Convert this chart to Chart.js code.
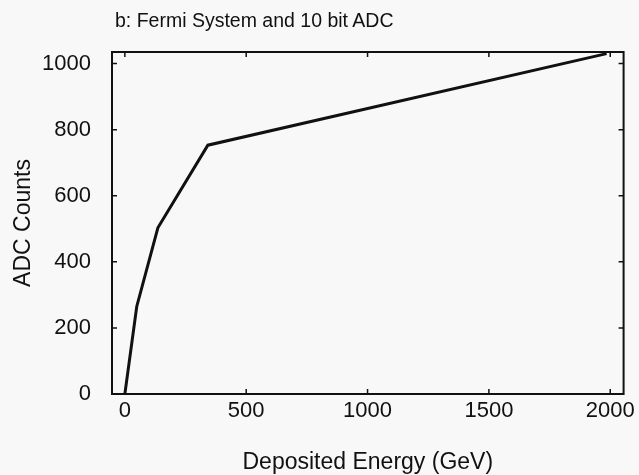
<!DOCTYPE html>
<html>
<head>
<meta charset="utf-8">
<script src="https://cdn.jsdelivr.net/npm/chart.js@4/dist/chart.umd.min.js"></script>
<style>
html,body{margin:0;padding:0;background:#f7f8f7;}
#wrap{position:relative;width:639px;height:475px;}
#title{position:absolute;left:115px;top:9px;font:19.5px "Liberation Sans",Arial,sans-serif;color:#111;}
</style>
</head>
<body>
<div id="wrap">
<div id="title">b: Fermi System and 10 bit ADC</div>
<canvas id="adcChart" width="639" height="475"></canvas>
</div>
<script>

// response curve
const energy = [0, 49, 136, 342, 1985];
const counts = [0, 265, 503, 753, 1030];

const xTicks = [0, 500, 1000, 1500, 2000];
const yTicks = [0, 200, 400, 600, 800, 1000];

const tickFont = {family:"'Liberation Sans', Arial, sans-serif", size:22, lineHeight:1.2};
const titleFont = {family:"'Liberation Sans', Arial, sans-serif", size:23, lineHeight:1.1};

// frame round the plot with small inward ticks
const boxPlugin = {
id:"box",
afterDatasetsDraw(chart){
const a = chart.chartArea;
const ctx = chart.ctx;
const xs = chart.scales.x, ys = chart.scales.y;
ctx.save();
ctx.strokeStyle = "#111";
ctx.lineWidth = 2;
ctx.strokeRect(a.left, a.top, a.right-a.left, a.bottom-a.top);
ctx.lineWidth = 1.5;
ctx.beginPath();
xTicks.forEach(v=>{
const px = xs.getPixelForValue(v);
ctx.moveTo(px, a.bottom); ctx.lineTo(px, a.bottom-5);
ctx.moveTo(px, a.top); ctx.lineTo(px, a.top+5);
});
yTicks.forEach(v=>{
const py = ys.getPixelForValue(v);
ctx.moveTo(a.left, py); ctx.lineTo(a.left+5, py);
ctx.moveTo(a.right, py); ctx.lineTo(a.right-5, py);
});
ctx.stroke();
ctx.restore();
}
};

window.onload=function(){

new Chart(

document.getElementById("adcChart"),

{

type:"line",

data:{

datasets:[{

label:"ADC",

data:energy.map((e,i)=>({x:e,y:counts[i]})),

borderColor:"#111",

borderWidth:3,

pointRadius:0,

tension:0,

fill:false

}]

},

options:{

responsive:false,

animation:false,

layout:{padding:{top:52,right:11,left:9,bottom:0}},

plugins:{legend:{display:false},tooltip:{enabled:false}},

scales:{

x:{

type:"linear",

min:-53,

max:2055,

afterBuildTicks:axis=>{axis.ticks = xTicks.map(v=>({value:v}));},

afterFit:axis=>{axis.height = 81;},

grid:{display:false,drawTicks:false},

border:{display:false},

ticks:{font:tickFont,color:"#111",padding:4,maxRotation:0,callback:v=>String(v)},

title:{display:true,text:"Deposited Energy (GeV)",font:titleFont,color:"#111",padding:{top:24,bottom:0}}

},

y:{

min:0,

max:1035,

afterBuildTicks:axis=>{axis.ticks = yTicks.map(v=>({value:v}));},

afterFit:axis=>{axis.width = 103;},

grid:{display:false,drawTicks:false},

border:{display:false},

ticks:{font:tickFont,color:"#111",padding:21,callback:v=>String(v)},

title:{display:true,text:"ADC Counts",font:titleFont,color:"#111",padding:{top:2,bottom:0}}

}

}

},

plugins:[boxPlugin]

}

);

};
</script>
</body>
</html>
